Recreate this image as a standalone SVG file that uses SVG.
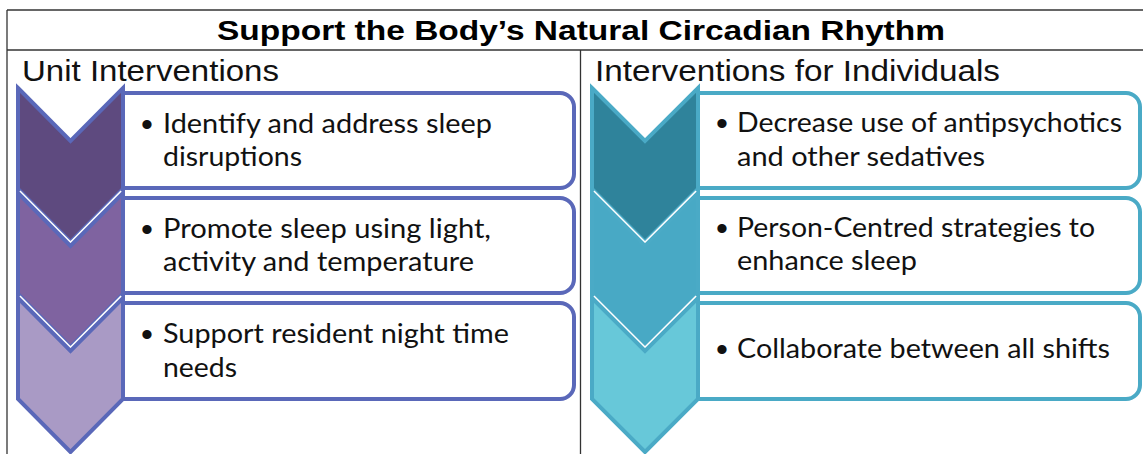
<svg xmlns="http://www.w3.org/2000/svg" width="1143" height="454" viewBox="0 0 1143 454">
  <style>
    .grid { stroke: #333; stroke-width: 1.3; fill: none; }
    .title { font-family: "Liberation Sans", Arial, sans-serif; font-weight: bold; font-size: 27px; fill: #000; }
    .head { font-family: "Liberation Sans", Arial, sans-serif; font-size: 29px; fill: #111; }
    .item { font-family: Lato, "Open Sans", sans-serif; font-size: 27px; fill: #111; }
    .bul { font-family: "Liberation Sans", Arial, sans-serif; font-size: 34px; fill: #111; text-anchor: middle; }
    .boxL { fill: #fff; stroke: #5a68b9; stroke-width: 4; }
    .boxR { fill: #fff; stroke: #4aaac6; stroke-width: 4; }
    .chevL { stroke: #5a68b9; stroke-width: 4; stroke-linejoin: miter; }
    .chevR { stroke: #4aaac6; stroke-width: 4; stroke-linejoin: miter; }
    .sep { fill: none; stroke: #fff; stroke-width: 7; }
  </style>

  <!-- table frame -->
  <g id="frame">
    <line class="grid" x1="7" y1="10" x2="1143" y2="10"/>
    <line class="grid" x1="7" y1="50" x2="1143" y2="50"/>
    <line class="grid" x1="7" y1="10" x2="7" y2="454"/>
    <line class="grid" x1="580.5" y1="50" x2="580.5" y2="454"/>
  </g>

  <g id="title">
    <text class="title" x="217" y="40" textLength="728" lengthAdjust="spacingAndGlyphs">Support the Body’s Natural Circadian Rhythm</text>
  </g>

  <!-- left column: unit interventions -->
  <g id="unit-interventions">
    <text class="head" x="22" y="81" textLength="257" lengthAdjust="spacingAndGlyphs">Unit Interventions</text>

    <g id="unit-box-1">
      <path class="boxL" d="M123,93 H560 a14,14 0 0 1 14,14 V174 a14,14 0 0 1 -14,14 H123 Z"/>
      <text class="bul" x="147" y="136">•</text>
      <text class="item" x="163" y="133" textLength="329" lengthAdjust="spacingAndGlyphs">Identify and address sleep</text>
      <text class="item" x="163" y="166" textLength="139" lengthAdjust="spacingAndGlyphs">disruptions</text>
    </g>
    <g id="unit-box-2">
      <path class="boxL" d="M123,198 H560 a14,14 0 0 1 14,14 V279 a14,14 0 0 1 -14,14 H123 Z"/>
      <text class="bul" x="147" y="241">•</text>
      <text class="item" x="163" y="238" textLength="328" lengthAdjust="spacingAndGlyphs">Promote sleep using light,</text>
      <text class="item" x="163" y="271" textLength="311" lengthAdjust="spacingAndGlyphs">activity and temperature</text>
    </g>
    <g id="unit-box-3">
      <path class="boxL" d="M123,303 H560 a14,14 0 0 1 14,14 V385 a14,14 0 0 1 -14,14 H123 Z"/>
      <text class="bul" x="147" y="346">•</text>
      <text class="item" x="163" y="343" textLength="346" lengthAdjust="spacingAndGlyphs">Support resident night time</text>
      <text class="item" x="163" y="377" textLength="74" lengthAdjust="spacingAndGlyphs">needs</text>
    </g>

    <g id="unit-chevron-1">
      <path class="chevL" fill="#5e4a7f" d="M18,88 L70.5,141 L123,88 V189 L70.5,242 L18,189 Z"/>
    </g>
    <g id="unit-chevron-2">
      <path class="sep" d="M18,193 L70.5,246 L123,193"/>
      <path class="chevL" fill="#7f63a0" d="M18,193 L70.5,246 L123,193 V294 L70.5,347 L18,294 Z"/>
    </g>
    <g id="unit-chevron-3">
      <path class="sep" d="M18,298 L70.5,351 L123,298"/>
      <path class="chevL" fill="#a99ac5" d="M18,298 L70.5,351 L123,298 V399 L70.5,452 L18,399 Z"/>
    </g>
  </g>

  <!-- right column: interventions for individuals -->
  <g id="individual-interventions">
    <text class="head" x="595" y="81" textLength="405" lengthAdjust="spacingAndGlyphs">Interventions for Individuals</text>

    <g id="indiv-box-1">
      <path class="boxR" d="M698,93 H1126 a14,14 0 0 1 14,14 V174 a14,14 0 0 1 -14,14 H698 Z"/>
      <text class="bul" x="722" y="135">•</text>
      <text class="item" x="737" y="132" textLength="385" lengthAdjust="spacingAndGlyphs">Decrease use of antipsychotics</text>
      <text class="item" x="737" y="166" textLength="248" lengthAdjust="spacingAndGlyphs">and other sedatives</text>
    </g>
    <g id="indiv-box-2">
      <path class="boxR" d="M698,198 H1126 a14,14 0 0 1 14,14 V279 a14,14 0 0 1 -14,14 H698 Z"/>
      <text class="bul" x="722" y="240">•</text>
      <text class="item" x="737" y="237" textLength="358" lengthAdjust="spacingAndGlyphs">Person-Centred strategies to</text>
      <text class="item" x="737" y="270" textLength="180" lengthAdjust="spacingAndGlyphs">enhance sleep</text>
    </g>
    <g id="indiv-box-3">
      <path class="boxR" d="M698,303 H1126 a14,14 0 0 1 14,14 V385 a14,14 0 0 1 -14,14 H698 Z"/>
      <text class="bul" x="722" y="361">•</text>
      <text class="item" x="737" y="358" textLength="373" lengthAdjust="spacingAndGlyphs">Collaborate between all shifts</text>
    </g>

    <g id="indiv-chevron-1">
      <path class="chevR" fill="#2f839b" d="M592,88 L645,141 L698,88 V189 L645,242 L592,189 Z"/>
    </g>
    <g id="indiv-chevron-2">
      <path class="sep" d="M592,193 L645,246 L698,193"/>
      <path class="chevR" fill="#48a9c5" d="M592,193 L645,246 L698,193 V294 L645,347 L592,294 Z"/>
    </g>
    <g id="indiv-chevron-3">
      <path class="sep" d="M592,298 L645,351 L698,298"/>
      <path class="chevR" fill="#67c8d9" d="M592,298 L645,351 L698,298 V399 L645,452 L592,399 Z"/>
    </g>
  </g>
</svg>
